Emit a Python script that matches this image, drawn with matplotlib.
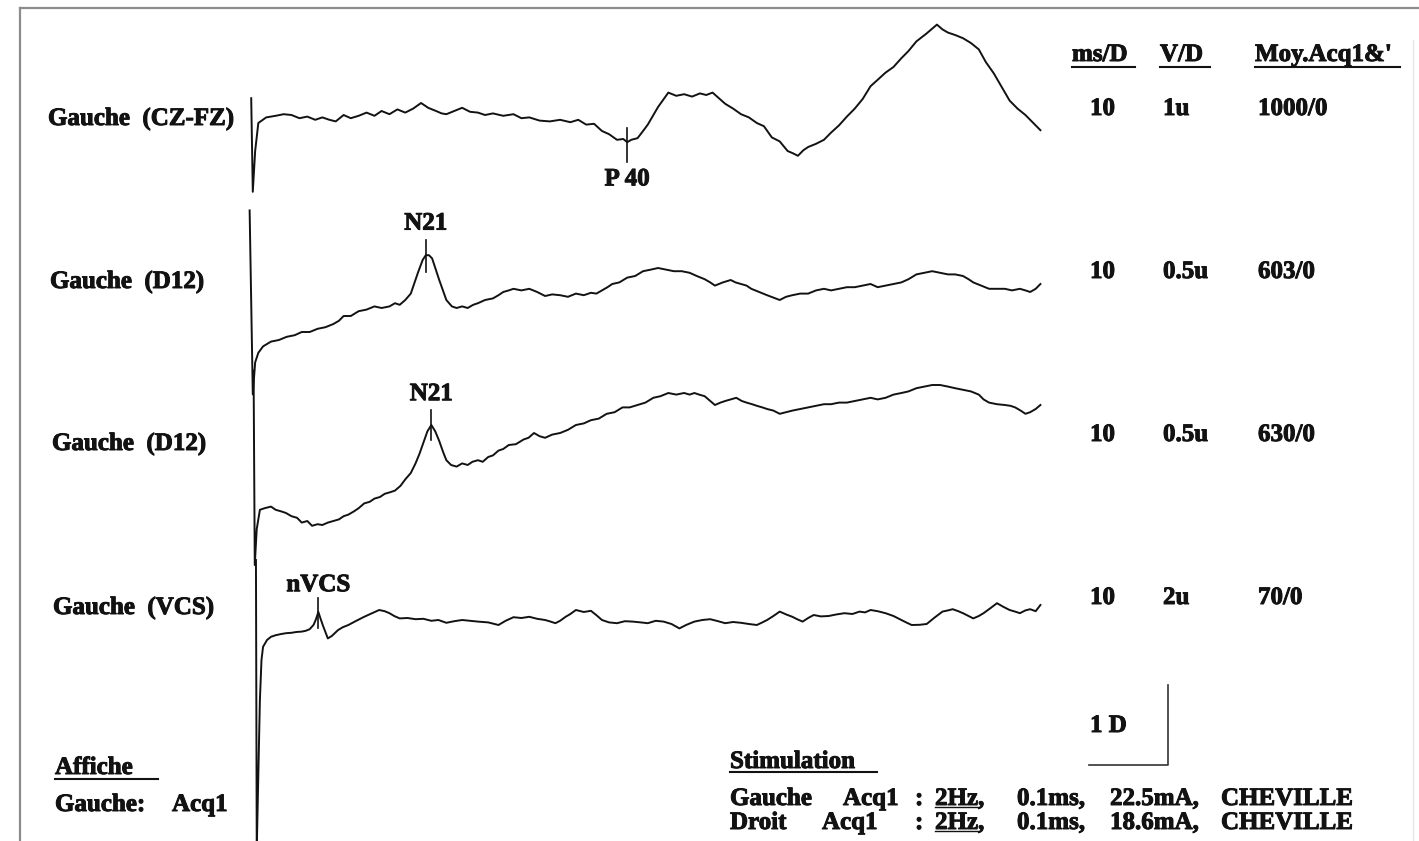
import matplotlib
matplotlib.use("Agg")
import matplotlib.pyplot as plt
from matplotlib.lines import Line2D
import matplotlib.patheffects as pe
import numpy as np

W, H, DPI = 1419, 841, 100

# ------------------------------------------------------------------ data
channel_labels = ["Gauche  (CZ-FZ)", "Gauche  (D12)", "Gauche  (D12)", "Gauche  (VCS)"]
ms_per_div_labels = ["10", "10", "10", "10"]
v_per_div_labels = ["1u", "0.5u", "0.5u", "2u"]
v_per_div = [1.0, 0.5, 0.5, 2.0]          # µV per division
averages = ["1000/0", "603/0", "630/0", "70/0"]

# (latency ms, amplitude µV)
trace1 = [(-0.1, 0.21), (0.1, -0.96), (0.4, -0.45), (0.8, -0.10), (1.8, -0.03), (3.0, -0.01),
          (4.0, 0.01), (5.0, 0.00), (6.0, -0.04), (7.0, -0.02), (8.0, -0.06), (8.9, -0.03),
          (9.8, -0.06), (10.6, -0.08), (11.6, 0.00), (12.5, -0.04), (13.5, -0.01), (14.5, 0.03),
          (15.5, -0.01), (16.4, 0.05), (17.4, 0.01), (18.4, 0.07), (19.4, 0.03), (20.4, 0.08),
          (21.4, 0.15), (22.3, 0.09), (23.3, 0.05), (24.0, 0.02), (24.6, 0.01), (25.6, 0.05),
          (26.6, 0.09), (27.6, 0.04), (28.6, 0.03), (29.5, 0.00), (30.5, 0.02), (31.8, -0.01),
          (33.1, 0.01), (34.1, -0.04), (35.1, -0.03), (36.4, -0.07), (37.7, -0.08), (39.0, -0.06),
          (40.3, -0.09), (41.3, -0.06), (42.3, -0.12), (43.3, -0.11), (44.3, -0.20), (45.2, -0.24),
          (46.2, -0.31), (47.0, -0.30), (47.5, -0.34), (48.0, -0.31), (48.8, -0.29), (49.5, -0.20),
          (50.1, -0.12), (51.4, 0.10), (52.7, 0.28), (53.7, 0.24), (54.7, 0.26), (55.7, 0.23),
          (56.7, 0.27), (57.5, 0.25), (58.3, 0.28), (59.1, 0.21), (59.9, 0.14), (60.9, 0.08),
          (61.9, 0.01), (62.9, -0.03), (63.9, -0.10), (64.8, -0.14), (65.8, -0.28), (66.8, -0.33),
          (67.8, -0.45), (68.5, -0.48), (69.1, -0.51), (69.8, -0.44), (70.4, -0.40), (71.4, -0.36),
          (72.4, -0.31), (73.3, -0.22), (74.3, -0.13), (75.3, -0.02), (76.3, 0.08), (77.3, 0.20),
          (78.3, 0.36), (79.2, 0.44), (80.2, 0.53), (81.2, 0.60), (82.2, 0.71), (83.1, 0.80),
          (84.1, 0.92), (85.4, 1.02), (86.7, 1.13), (87.4, 1.07), (88.1, 1.03), (89.0, 1.00),
          (90.0, 0.96), (91.0, 0.90), (92.0, 0.82), (92.9, 0.66), (93.9, 0.52), (94.9, 0.35),
          (95.9, 0.18), (96.9, 0.08), (97.9, 0.00), (98.8, -0.09), (99.8, -0.19)]

trace2 = [(-0.3, 0.56), (0.1, -0.59), (0.4, -0.39), (0.8, -0.33), (1.4, -0.29), (2.4, -0.26),
          (3.4, -0.25), (4.4, -0.23), (5.4, -0.22), (6.3, -0.20), (7.3, -0.20), (8.3, -0.18),
          (9.3, -0.17), (10.3, -0.15), (11.0, -0.13), (11.6, -0.10), (12.5, -0.10), (13.5, -0.07),
          (14.5, -0.06), (15.5, -0.04), (16.4, -0.05), (17.4, -0.04), (18.1, -0.02), (18.7, -0.03),
          (19.4, 0.00), (20.1, 0.04), (21.0, 0.17), (21.6, 0.25), (22.0, 0.28), (22.4, 0.28),
          (22.8, 0.26), (23.7, 0.125), (24.6, 0.00), (25.3, -0.04), (25.9, -0.05), (26.6, -0.04),
          (27.3, -0.05), (28.0, -0.03), (28.6, -0.02), (29.5, 0.00), (30.5, 0.01), (31.2, 0.03),
          (31.8, 0.05), (32.5, 0.06), (33.1, 0.07), (34.1, 0.06), (35.1, 0.07), (36.1, 0.05),
          (37.1, 0.025), (38.0, 0.035), (39.0, 0.03), (40.0, 0.02), (41.0, 0.04), (42.0, 0.03),
          (42.9, 0.045), (43.6, 0.04), (44.3, 0.06), (45.0, 0.08), (45.6, 0.10), (46.5, 0.11),
          (47.5, 0.14), (48.5, 0.15), (49.5, 0.18), (50.5, 0.19), (51.4, 0.20), (52.4, 0.19),
          (53.4, 0.18), (54.4, 0.18), (55.4, 0.17), (56.3, 0.15), (57.3, 0.13), (58.0, 0.11),
          (58.6, 0.09), (59.6, 0.11), (60.6, 0.125), (61.2, 0.11), (61.9, 0.10), (62.6, 0.09),
          (63.2, 0.07), (64.2, 0.05), (65.2, 0.03), (66.0, 0.015), (66.8, 0.00), (67.6, 0.02),
          (68.4, 0.03), (69.4, 0.04), (70.4, 0.04), (71.4, 0.06), (72.4, 0.07), (73.3, 0.06),
          (74.3, 0.07), (75.3, 0.08), (76.3, 0.08), (77.3, 0.09), (78.3, 0.10), (79.2, 0.08),
          (80.2, 0.09), (81.2, 0.10), (82.2, 0.11), (83.1, 0.13), (84.1, 0.16), (85.1, 0.17),
          (86.1, 0.18), (87.1, 0.17), (88.1, 0.16), (89.0, 0.16), (90.0, 0.15), (90.7, 0.13),
          (91.3, 0.11), (92.3, 0.09), (93.3, 0.07), (94.3, 0.07), (95.3, 0.07), (96.2, 0.06),
          (97.2, 0.07), (97.9, 0.06), (98.5, 0.05), (99.2, 0.07), (99.8, 0.10)]

trace3 = [(0.2, 0.59), (0.35, -0.625), (0.6, -0.40), (1.0, -0.28), (1.6, -0.27), (2.4, -0.26),
          (3.0, -0.28), (3.7, -0.29), (4.3, -0.30), (5.0, -0.32), (5.7, -0.33), (6.3, -0.36),
          (7.0, -0.35), (7.6, -0.38), (8.3, -0.37), (8.9, -0.375), (9.6, -0.36), (10.3, -0.35),
          (11.0, -0.34), (11.6, -0.32), (12.2, -0.31), (12.9, -0.29), (13.5, -0.27), (14.2, -0.24),
          (14.9, -0.23), (15.5, -0.21), (16.2, -0.20), (16.8, -0.18), (17.5, -0.17), (18.1, -0.16),
          (18.8, -0.13), (19.4, -0.09), (20.1, -0.05), (20.7, 0.01), (21.2, 0.07), (21.7, 0.14),
          (22.2, 0.21), (22.7, 0.25), (23.2, 0.21), (23.7, 0.15), (24.2, 0.08), (24.6, 0.03),
          (25.2, 0.00), (25.9, -0.01), (26.6, 0.01), (27.3, 0.00), (27.9, 0.02), (28.6, 0.03),
          (29.2, 0.02), (29.9, 0.05), (30.5, 0.06), (31.2, 0.09), (31.8, 0.10), (32.5, 0.125),
          (33.4, 0.13), (34.4, 0.16), (35.0, 0.17), (35.7, 0.20), (36.4, 0.18), (37.1, 0.17),
          (38.0, 0.19), (39.0, 0.20), (40.0, 0.22), (41.0, 0.25), (42.0, 0.26), (42.9, 0.28),
          (43.9, 0.29), (44.9, 0.32), (45.9, 0.33), (46.9, 0.36), (47.8, 0.36), (48.8, 0.375),
          (49.8, 0.39), (50.8, 0.42), (51.7, 0.43), (52.7, 0.45), (53.7, 0.44), (54.7, 0.45),
          (55.4, 0.44), (56.0, 0.45), (56.6, 0.44), (57.3, 0.43), (58.0, 0.40), (58.6, 0.375),
          (59.3, 0.39), (59.9, 0.40), (60.6, 0.41), (61.3, 0.42), (62.0, 0.40), (62.6, 0.39),
          (63.3, 0.38), (63.9, 0.37), (64.6, 0.36), (65.2, 0.35), (66.0, 0.34), (66.8, 0.32),
          (67.6, 0.33), (68.4, 0.34), (69.4, 0.35), (70.4, 0.36), (71.4, 0.37), (72.4, 0.38),
          (73.3, 0.38), (74.3, 0.39), (75.3, 0.39), (76.3, 0.40), (77.3, 0.41), (78.3, 0.42),
          (79.2, 0.41), (80.2, 0.42), (81.2, 0.44), (82.2, 0.45), (83.1, 0.46), (84.1, 0.48),
          (85.1, 0.49), (86.1, 0.50), (87.1, 0.50), (88.1, 0.49), (89.0, 0.48), (90.0, 0.47),
          (91.0, 0.46), (92.0, 0.44), (92.6, 0.41), (93.3, 0.39), (94.3, 0.38), (95.3, 0.375),
          (96.0, 0.37), (96.6, 0.36), (97.3, 0.34), (97.9, 0.32), (98.5, 0.33), (99.2, 0.35),
          (99.8, 0.375)]

trace4 = [(0.5, 1.5), (0.6, -5.75), (1.0, -2.0), (1.2, -1.0), (1.4, -0.67), (1.9, -0.50),
          (2.4, -0.42), (3.0, -0.38), (3.7, -0.35), (4.3, -0.33), (5.0, -0.32), (5.6, -0.30),
          (6.3, -0.29), (6.8, -0.27), (7.3, -0.23), (7.8, -0.12), (8.1, 0.02), (8.4, 0.20),
          (8.7, 0.02), (9.0, -0.15), (9.6, -0.46), (10.1, -0.40), (10.9, -0.25), (11.5, -0.18),
          (12.2, -0.125), (13.2, -0.02), (14.2, 0.08), (15.2, 0.17), (16.1, 0.25), (16.8, 0.22),
          (17.4, 0.17), (18.0, 0.10), (18.7, 0.04), (19.7, 0.05), (20.7, 0.02), (21.7, 0.03),
          (22.7, -0.02), (23.6, 0.00), (24.6, -0.07), (25.6, -0.03), (26.6, 0.00), (27.6, -0.02),
          (28.6, -0.04), (29.9, -0.06), (31.2, -0.125), (32.1, -0.02), (33.1, 0.07), (34.1, 0.05),
          (35.1, 0.08), (36.1, 0.03), (37.1, 0.00), (37.8, -0.04), (38.4, -0.08), (39.0, -0.02),
          (39.7, 0.08), (40.3, 0.15), (41.0, 0.25), (42.0, 0.20), (42.9, 0.23), (43.6, 0.12),
          (44.3, 0.00), (45.2, -0.06), (46.2, -0.08), (47.2, -0.03), (48.2, -0.04), (49.2, -0.06),
          (50.1, -0.08), (51.1, -0.02), (52.1, -0.04), (53.1, -0.10), (54.1, -0.21), (55.0, -0.12),
          (56.0, -0.04), (57.0, 0.00), (58.0, 0.02), (59.0, -0.03), (59.9, -0.08), (60.9, -0.05),
          (61.9, -0.07), (62.9, -0.10), (63.9, -0.125), (64.6, -0.06), (65.2, 0.00), (66.0, 0.10),
          (66.8, 0.21), (67.6, 0.14), (68.4, 0.08), (69.0, 0.02), (69.7, -0.04), (70.4, 0.05),
          (71.1, 0.125), (72.0, 0.09), (73.0, 0.10), (74.0, 0.14), (75.0, 0.17), (76.0, 0.15),
          (76.9, 0.21), (77.6, 0.19), (78.3, 0.25), (79.2, 0.22), (80.2, 0.17), (81.2, 0.10),
          (82.2, 0.00), (82.8, -0.06), (83.5, -0.125), (84.5, -0.12), (85.4, -0.10), (86.4, 0.06),
          (87.4, 0.21), (88.1, 0.24), (88.7, 0.27), (89.4, 0.22), (90.0, 0.17), (90.7, 0.10),
          (91.3, 0.04), (92.0, 0.10), (92.6, 0.17), (93.5, 0.30), (94.3, 0.42), (95.1, 0.33),
          (95.9, 0.25), (96.6, 0.21), (97.2, 0.17), (97.9, 0.24), (98.5, 0.27), (99.2, 0.22),
          (99.8, 0.375)]

traces = [trace1, trace2, trace3, trace4]

marker_names = ["P 40", "N21", "N21", "nVCS"]
marker_channel = [0, 1, 2, 3]
marker_latency = [47.5, 22.0, 22.7, 8.4]

header_labels = ["ms/D", "V/D", "Moy.Acq1&'"]
stim_rows = [["Gauche", "Acq1", ":", "2Hz,", "0.1ms,", "22.5mA,", "CHEVILLE"],
             ["Droit", "Acq1", ":", "2Hz,", "0.1ms,", "18.6mA,", "CHEVILLE"]]

# ------------------------------------------------------------------ layout / style
INK = "#121212"
INKFX = [pe.withStroke(linewidth=0.7, foreground=INK)]
FONT = dict(family="Liberation Serif", weight="bold", color=INK, fontsize=18,
            path_effects=INKFX)
PX_PER_MS = 7.9
PX_PER_DIV = 80.0
X0 = 252.0
baselines_px = [115, 300, 465, 620]

fig = plt.figure(figsize=(W / DPI, H / DPI), dpi=DPI)
fig.patch.set_facecolor("white")
ax = fig.add_axes([0, 0, 1, 1])
ax.set_axis_off()
ax.set_xlim(-X0 / PX_PER_MS, (W - X0) / PX_PER_MS)
ax.set_ylim(0, H / PX_PER_DIV)


def ydiv(ypx):
    return (H - ypx) / PX_PER_DIV


def ftext(x, y, s, **kw):
    # y is the text baseline in pixels from the top
    opts = dict(FONT)
    opts.update(kw)
    opts.setdefault("va", "baseline")
    opts.setdefault("ha", "left")
    fig.text(x / W, 1 - y / H, s, **opts)


def fline(xs, ys, **kw):
    fig.add_artist(Line2D([x / W for x in xs], [1 - y / H for y in ys],
                          transform=fig.transFigure, **kw))


# page frame (scanned sheet edges)
fline([20, W], [8, 8], color="#8c8c8c", lw=1.6)
fline([20, 20], [8, H], color="#8c8c8c", lw=1.6)
fline([1413, 1413], [40, H], color="#e6e6e6", lw=1.0)

# traces
for tr, base, vpd in zip(traces, baselines_px, v_per_div):
    t, v = zip(*tr)
    y = ydiv(base) + np.asarray(v) / vpd
    ax.plot(t, y, color=INK, lw=1.4, solid_joinstyle="round")

# peak markers: tick + label
tick_span = [(-0.16, -0.59), (0.75, 0.35), (0.69, 0.31), (0.275, -0.10)]
label_base = [-0.88, 0.88, 0.81, 0.36]
for name, ch, lat, sp, lb in zip(marker_names, marker_channel, marker_latency, tick_span, label_base):
    b = ydiv(baselines_px[ch])
    ax.plot([lat, lat], [b + sp[0], b + sp[1]], color=INK, lw=1.2)
    ax.text(lat, b + lb, name, ha="center", va="baseline", **FONT)

# channel labels at left
left_x = [48, 50, 52, 53]
for lab, lx, by in zip(channel_labels, left_x, [125, 288, 450, 614]):
    ftext(lx, by, lab)

# right-hand table
col_x = [1072, 1160, 1255]
head_end = [1135, 1210, 1400]
for lab, cx, ce in zip(header_labels, col_x, head_end):
    ftext(cx, 61, lab)
    fline([cx, ce], [67, 67], color=INK, lw=1.5)
row_y = [115, 278, 441, 604]
for ry, a, b, c in zip(row_y, ms_per_div_labels, v_per_div_labels, averages):
    ftext(1090, ry, a)
    ftext(1163, ry, b)
    ftext(1258, ry, c)

# calibration bar: 1 division each way
cal_t_end = (1168 - X0) / PX_PER_MS
cal_y0 = ydiv(765)
ax.plot([cal_t_end - 10, cal_t_end, cal_t_end], [cal_y0, cal_y0, cal_y0 + 1.0],
        color="#333333", lw=1.2)
ftext(1090, 732, "1 D")

# bottom-left block
ftext(55, 774, "Affiche")
fline([55, 158], [779, 779], color=INK, lw=1.5)
ftext(55, 811, "Gauche:")
ftext(172, 811, "Acq1")

# stimulation block
ftext(730, 768, "Stimulation")
fline([730, 877], [772, 772], color=INK, lw=1.5)
stim_x = [[730, 843, 915, 935, 1017, 1110, 1221],
          [730, 822, 915, 935, 1017, 1110, 1221]]
for row, xs, ry in zip(stim_rows, stim_x, [805, 829]):
    for s, x in zip(row, xs):
        ftext(x, ry, s)
    fline([935, 980], [ry + 2, ry + 2], color=INK, lw=1.0)

fig.savefig("out.png", dpi=DPI, facecolor="white")
